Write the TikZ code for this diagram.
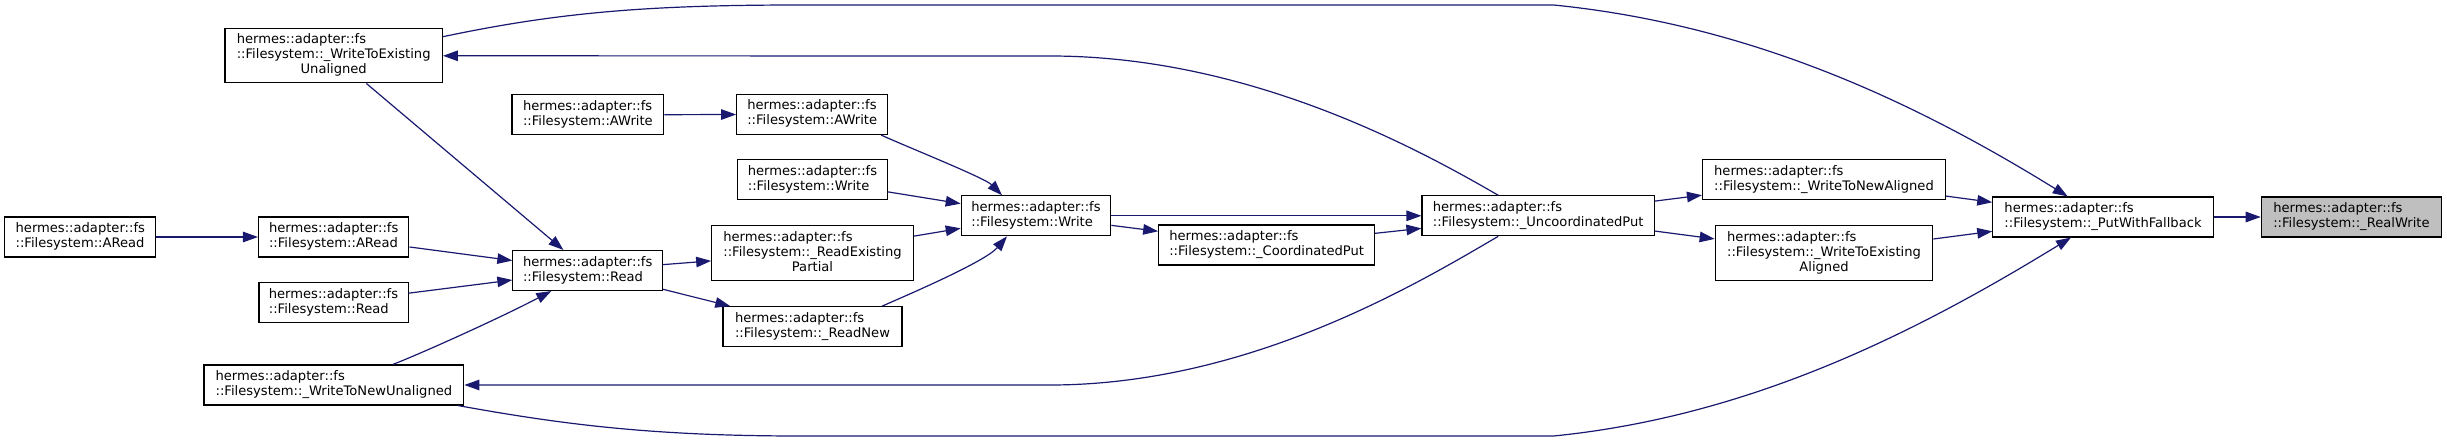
\documentclass[tikz,border=0pt]{standalone}
\usepackage{fontspec}
\setmainfont{DejaVu Sans}
\usetikzlibrary{arrows.meta,calc}
\definecolor{edgeblue}{HTML}{191970}
\definecolor{hlgray}{HTML}{BFBFBF}
\newcommand{\twol}[2]{\begin{tabular}{@{}l@{}}#1\\#2\end{tabular}}
\newcommand{\threel}[3]{\begin{tabular}{@{}l@{}}#1\\#2\\\multicolumn{1}{@{}c@{}}{#3}\end{tabular}}
\tikzset{
  fn/.style={draw=black, fill=white, line width=1.1pt, inner sep=0pt, minimum height=40pt,
    font=\fontsize{13.1}{15}\selectfont},
  fnhl/.style={fn, fill=hlgray},
  edge/.style={draw=edgeblue, line width=1.2pt, -{Triangle[length=15pt,width=10.5pt]}}
}
\begin{document}
\begin{tikzpicture}[x=1pt,y=-1pt]
\useasboundingbox (0,0) rectangle (2447,441);
\fill[white] (0,0) rectangle (2447,441);
% nodes
\node[fn, minimum width=217.4pt, minimum height=54.3pt] (wteu) at (333.7,55.8) {\threel{hermes::adapter::fs}{::Filesystem::\_WriteToExisting}{Unaligned}};
\node[fn, minimum width=151.8pt] (awl) at (587.9,114.7) {\twol{hermes::adapter::fs}{::Filesystem::AWrite}};
\node[fn, minimum width=151pt] (arf) at (80.3,237) {\twol{hermes::adapter::fs}{::Filesystem::ARead}};
\node[fn, minimum width=150.4pt] (arm) at (333.7,237) {\twol{hermes::adapter::fs}{::Filesystem::ARead}};
\node[fn, minimum width=149.1pt] (rds) at (333.5,302.7) {\twol{hermes::adapter::fs}{::Filesystem::Read}};
\node[fn, minimum width=149.6pt] (rdm) at (587.7,270.5) {\twol{hermes::adapter::fs}{::Filesystem::Read}};
\node[fn, minimum width=259.8pt] (wtnu) at (333.9,385) {\twol{hermes::adapter::fs}{::Filesystem::\_WriteToNewUnaligned}};
\node[fn, minimum width=151.1pt] (awm) at (812.2,114.5) {\twol{hermes::adapter::fs}{::Filesystem::AWrite}};
\node[fn, minimum width=149.4pt] (wrs) at (812.5,179.7) {\twol{hermes::adapter::fs}{::Filesystem::Write}};
\node[fn, minimum width=201.6pt, minimum height=54.7pt] (rep) at (812.5,253) {\threel{hermes::adapter::fs}{::Filesystem::\_ReadExisting}{Partial}};
\node[fn, minimum width=179pt] (rnew) at (812.5,326.7) {\twol{hermes::adapter::fs}{::Filesystem::\_ReadNew}};
\node[fn, minimum width=149.5pt] (wrm) at (1036,215.8) {\twol{hermes::adapter::fs}{::Filesystem::Write}};
\node[fn, minimum width=215.8pt] (cp) at (1266.6,245) {\twol{hermes::adapter::fs}{::Filesystem::\_CoordinatedPut}};
\node[fn, minimum width=232.4pt] (up) at (1538.2,215.8) {\twol{hermes::adapter::fs}{::Filesystem::\_UncoordinatedPut}};
\node[fn, minimum width=243pt] (wtna) at (1824,179.8) {\twol{hermes::adapter::fs}{::Filesystem::\_WriteToNewAligned}};
\node[fn, minimum width=217.6pt, minimum height=55pt] (wtea) at (1824,253.2) {\threel{hermes::adapter::fs}{::Filesystem::\_WriteToExisting}{Aligned}};
\node[fn, minimum width=220.4pt] (pwf) at (2103,217) {\twol{hermes::adapter::fs}{::Filesystem::\_PutWithFallback}};
\node[fnhl, minimum width=180.3pt] (rw) at (2351.4,217) {\twol{hermes::adapter::fs}{::Filesystem::\_RealWrite}};
% straight edges
\path[edge] (pwf.east) -- (rw.west);
\path[edge] (wtna) -- (pwf);
\path[edge] (wtea) -- (pwf);
\path[edge] (up) -- (wtna);
\path[edge] (up) -- (wtea);
\path[edge] (cp) -- (up);
\path[edge] (wrm) -- (cp);
\path[edge] (wrm.east) -- (up.west);
\path[edge] (wrs) -- (wrm);
\path[edge] (rep) -- (wrm);
\path[edge] (awl.east) -- (awm.west);
\path[edge] (rdm) -- (rep);
\path[edge] (rdm) -- (rnew);
\path[edge] (arm) -- (rdm);
\path[edge] (rds) -- (rdm);
\path[edge] (arf.east) -- (arm.west);
\path[edge] (wteu) -- (rdm);
% curved edges
\path[edge] ($(awm.south)+(68.9,0)$) .. controls (905,146) and (985,178) .. ($(wrm.north)+(-34,0)$);
\path[edge] ($(rnew.north)+(69.6,0)$) .. controls (905,296) and (985,262) .. ($(wrm.south)+(-29,0)$);
\path[edge] ($(wtnu.north)+(58.9,0)$) .. controls (420,354) and (500,318) .. ($(rdm.south)+(-36.4,0)$);
% long curves
\path[edge] ($(wteu.north east)+(0,8.6)$) .. controls (560,12) and (650,5) .. (800,5) -- (1553.6,5)
   .. controls (1753.6,25) and (1917.7,103.7) .. ($(pwf.north)+(-35.3,0)$);
\path[edge] ($(wtnu.south east)+(-6.4,0)$) .. controls (560,424) and (650,436) .. (800,436) -- (1553.6,436)
   .. controls (1753.6,416) and (1920,330) .. ($(pwf.south)+(-32,0)$);
\path[edge] ($(up.north)+(-40,0)$) .. controls (1420,150) and (1250,56) .. (1050,56) -- (wteu.east);
\path[edge] ($(up.south)+(-40,0)$) .. controls (1420,282) and (1250,385) .. (1050,385) -- (wtnu.east);
\end{tikzpicture}
\end{document}
